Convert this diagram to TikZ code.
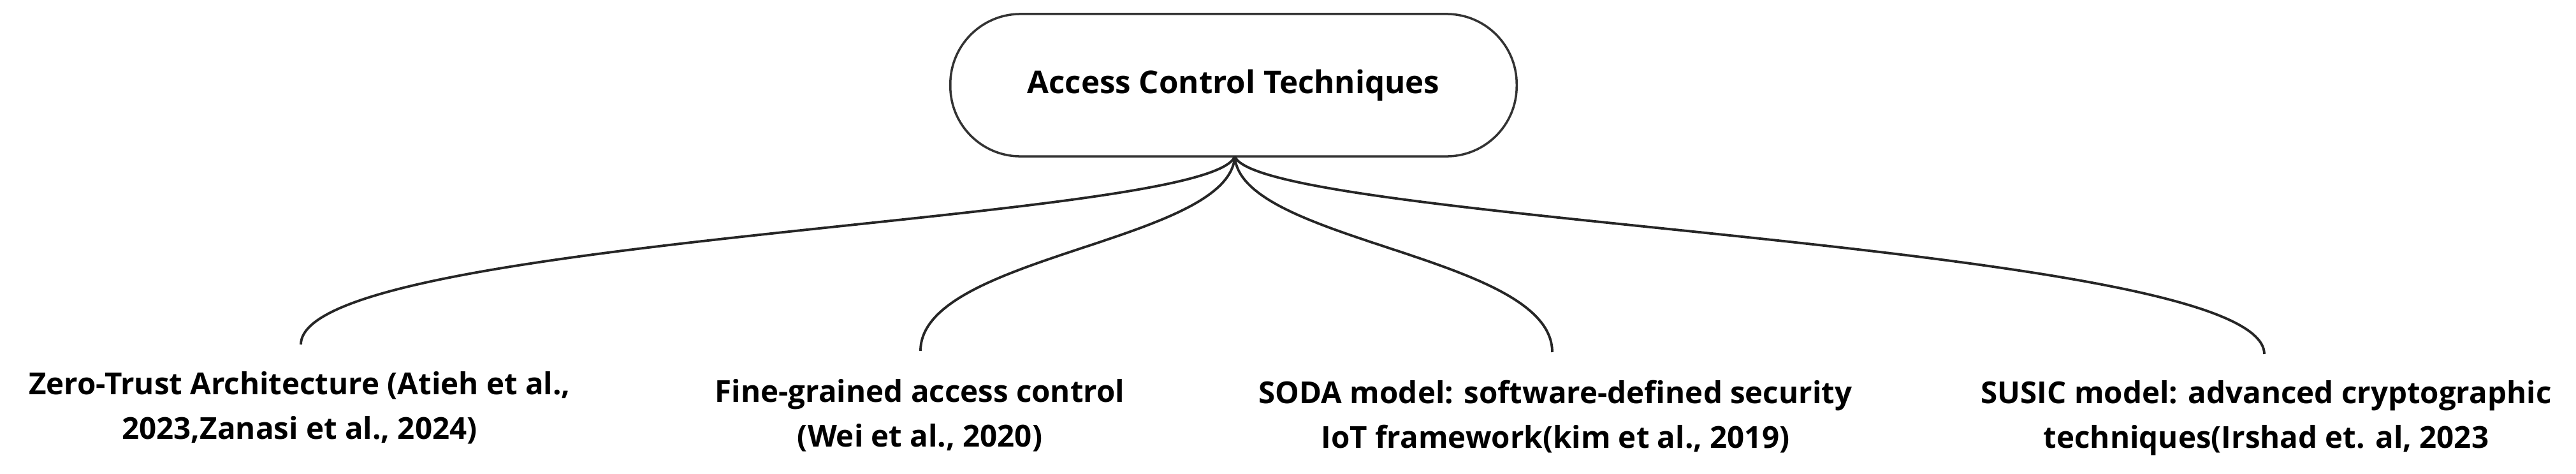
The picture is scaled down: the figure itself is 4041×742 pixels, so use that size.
\documentclass[tikz,border=0pt]{standalone}
\usepackage{fontspec}
\setmainfont{Open Sans}
\begin{document}
\begin{tikzpicture}[x=0.01cm,y=-0.01cm,
  lbl/.style={font=\bfseries\fontsize{13.5}{19.9}\selectfont, align=center, anchor=base, inner sep=0pt},
  conn/.style={draw=black!85, line width=1.1pt}]
\useasboundingbox (0,0) rectangle (4041,742);
\node[draw=black!80, line width=1pt, minimum width=8.88cm, minimum height=2.23cm, rounded corners=1.1cm, font=\bfseries\fontsize{14}{17}\selectfont] (root) at (1935,133.5) {Access Control Techniques};
\coordinate (r) at (1937,245);
\node[lbl] (a) at (470,688) {Zero-Trust Architecture (Atieh et al.,\\2023,Zanasi et al., 2024)};
\node[lbl] (b) at (1443,700) {Fine-grained access control\\(Wei et al., 2020)};
\node[lbl] (c) at (2440,702) {SODA model: software-defined security\\IoT framework(kim et al., 2019)};
\node[lbl] (d) at (3555,702) {SUSIC model: advanced cryptographic\\techniques(Irshad et. al, 2023};
\coordinate (ea) at (472,540);
\coordinate (eb) at (1444,550);
\coordinate (ec) at (2435,552);
\coordinate (ed) at (3552,555);
\draw[conn] (r) .. controls (1900,350) and (472,370) .. (ea);
\draw[conn] (r) .. controls (1930,380) and (1444,400) .. (eb);
\draw[conn] (r) .. controls (1945,380) and (2435,400) .. (ec);
\draw[conn] (r) .. controls (1975,350) and (3552,380) .. (ed);
\end{tikzpicture}
\end{document}
